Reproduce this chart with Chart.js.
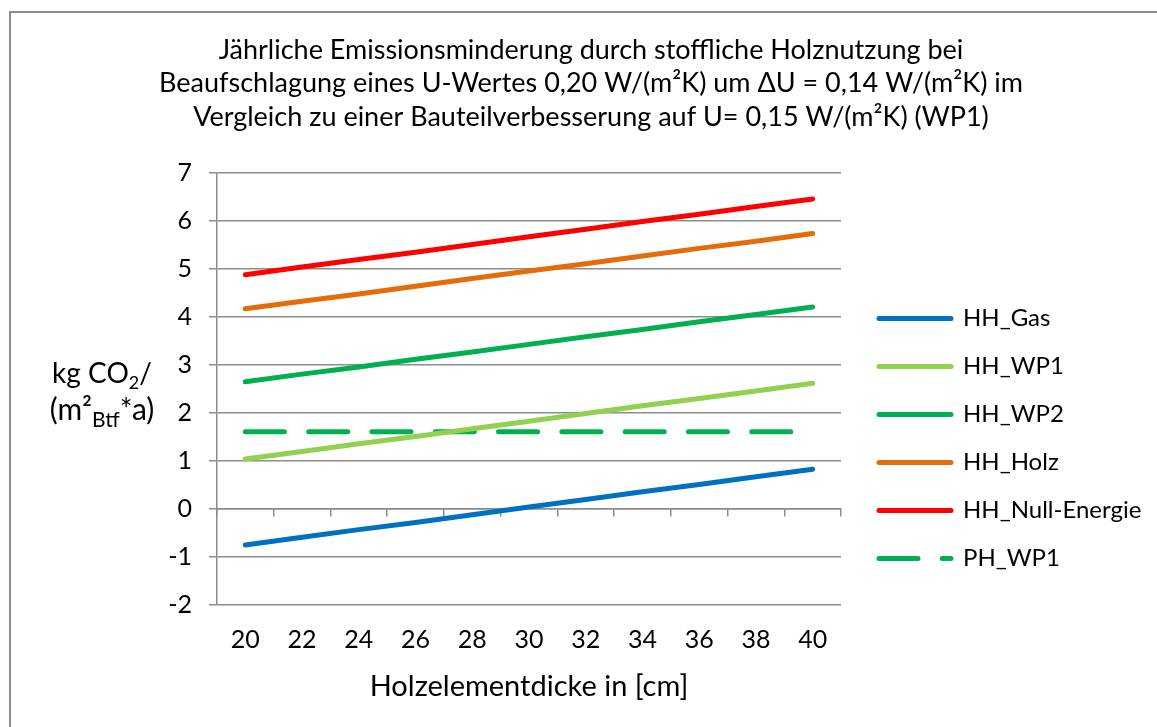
<!DOCTYPE html>
<html>
<head>
<meta charset="utf-8">
<script src="https://cdn.jsdelivr.net/npm/chart.js@4.4.0/dist/chart.umd.min.js"></script>
<style>
  html, body { margin: 0; padding: 0; background: #fff; overflow: hidden; }
  #frame { position: absolute; left: 9px; top: 11px; width: 1160px; height: 851px; border: 2px solid #8c8c8c; }
  canvas { display: block; }
</style>
</head>
<body>
<div id="frame"><canvas id="chart" width="1160" height="851"></canvas></div>
<script>
// values
const thickness = ['20', '22', '24', '26', '28', '30', '32', '34', '36', '38', '40'];
const hhGas   = [-0.75, -0.59, -0.43, -0.28, -0.12, 0.04, 0.20, 0.36, 0.51, 0.67, 0.83];
const hhWp1   = [1.04, 1.20, 1.36, 1.51, 1.67, 1.83, 1.99, 2.15, 2.30, 2.46, 2.62];
const hhWp2   = [2.65, 2.81, 2.96, 3.12, 3.27, 3.43, 3.59, 3.74, 3.90, 4.05, 4.21];
const hhHolz  = [4.17, 4.33, 4.48, 4.64, 4.80, 4.96, 5.11, 5.27, 5.43, 5.58, 5.74];
const hhNull  = [4.88, 5.04, 5.20, 5.35, 5.51, 5.67, 5.83, 5.99, 6.14, 6.30, 6.46];
const phWp1   = [1.61, 1.61, 1.61, 1.61, 1.61, 1.61, 1.61, 1.61, 1.61, 1.61, 1.61];

const titleLines = [
  'Jährliche Emissionsminderung durch stoffliche Holznutzung bei',
  'Beaufschlagung eines U-Wertes 0,20 W/(m²K) um ΔU = 0,14 W/(m²K) im',
  'Vergleich zu einer Bauteilverbesserung auf U= 0,15 W/(m²K) (WP1)'
];

Chart.defaults.font.family = 'Lato';
Chart.defaults.color = '#000';

var gridColor = '#8c8c8c';

// legend width, so the title stays centred on the whole frame
var legendSize = 24, legendPad = 24, sampleLen = 72;
var m = document.createElement('canvas').getContext('2d');
m.font = legendSize + 'px Lato';
var legW = legendPad + sampleLen + legendSize / 2 + m.measureText('HH_Null-Energie').width + 10;
var sidePad = 316 - legW;

function series(label, data, color, dash) {
  return {
    label: label,
    data: data,
    borderColor: color,
    backgroundColor: color,
    borderWidth: 5,
    borderCapStyle: 'round',
    borderJoinStyle: 'round',
    borderDash: dash || [],
    pointRadius: 0,
    tension: 0,
    fill: false
  };
}

// y axis title with sub/superscripts
var yTitle = {
  id: 'yTitle',
  afterDraw: function(chart) {
    var ctx = chart.ctx;
    var lines = [
      { y: 370, parts: [['kg CO', '28px Lato', 0], ['2', '18px Lato', 6], ['/', '28px Lato', 0]] },
      { y: 407, parts: [['(m²', '30px Lato', 0], ['Btf', '21px Lato', 7], ['*a)', '30px Lato', 0]] }
    ];
    ctx.save();
    ctx.fillStyle = '#000';
    ctx.textBaseline = 'alphabetic';
    ctx.textAlign = 'left';
    lines.forEach(function(l) {
      var w = 0;
      l.parts.forEach(function(p) { ctx.font = p[1]; w += ctx.measureText(p[0]).width; });
      var x = 91 - w / 2;
      l.parts.forEach(function(p) {
        ctx.font = p[1];
        ctx.fillText(p[0], x, l.y + p[2]);
        x += ctx.measureText(p[0]).width;
      });
    });
    ctx.restore();
  }
};

new Chart(document.getElementById('chart'), {
  type: 'line',
  data: {
    labels: thickness,
    datasets: [
      series('HH_Gas', hhGas, '#0070C0'),
      series('HH_WP1', hhWp1, '#92D050'),
      series('HH_WP2', hhWp2, '#00B050'),
      series('HH_Holz', hhHolz, '#E46C0A'),
      series('HH_Null-Energie', hhNull, '#FF0000'),
      series('PH_WP1', phWp1, '#00B050', [39, 24.3])
    ]
  },
  options: {
    responsive: false,
    animation: false,
    layout: { padding: { left: sidePad, right: sidePad, top: 0, bottom: 0 } },
    plugins: {
      title: {
        display: true,
        text: titleLines,
        color: '#000',
        font: { size: 27, weight: 'normal', lineHeight: '33.5px' },
        padding: { top: 20.25, bottom: 39.25 }
      },
      legend: {
        position: 'right',
        align: 'center',
        maxWidth: 500,
        labels: {
          usePointStyle: true,
          pointStyle: 'line',
          pointStyleWidth: sampleLen,
          padding: legendPad,
          color: '#000',
          font: { size: legendSize },
          generateLabels: function(chart) {
            var items = Chart.defaults.plugins.legend.labels.generateLabels(chart);
            items.forEach(function(it) {
              var ds = chart.data.datasets[it.datasetIndex];
              it.lineDash = ds.borderDash;
              it.lineCap = 'round';
            });
            return items;
          }
        }
      },
      tooltip: { enabled: false }
    },
    scales: {
      x: {
        type: 'category',
        offset: true,
        grid: { display: false, drawTicks: false },
        border: { display: false },
        ticks: { font: { size: 25 }, padding: 20, color: '#000', maxRotation: 0, autoSkip: false },
        title: {
          display: true,
          text: 'Holzelementdicke in [cm]',
          color: '#000',
          font: { size: 29 },
          padding: { top: 0, bottom: 159.6 }
        },
        afterFit: function(s) { s.height = 259; }
      },
      x0: {
        type: 'category',
        position: { y: 0 },
        offset: true,
        grid: { drawOnChartArea: false, drawTicks: true, tickLength: 7, color: gridColor, lineWidth: 1.5, offset: true },
        border: { display: true, color: gridColor, width: 1.5 },
        ticks: { display: false },
        afterFit: function(s) { s.height = 0; }
      },
      y: {
        min: -2,
        max: 7,
        ticks: { stepSize: 1, font: { size: 25 }, padding: 17, color: '#000' },
        grid: { color: gridColor, lineWidth: 1.5, tickLength: 8 },
        border: { color: gridColor, width: 1.5 },
        afterFit: function(s) { s.width = 206 - sidePad; }
      },
      yR: {
        position: 'right',
        display: true,
        ticks: { display: false },
        grid: { display: false, drawTicks: false },
        border: { display: false },
        afterFit: function(s) { s.width = 14; }
      }
    }
  },
  plugins: [yTitle]
});
</script>
</body>
</html>
